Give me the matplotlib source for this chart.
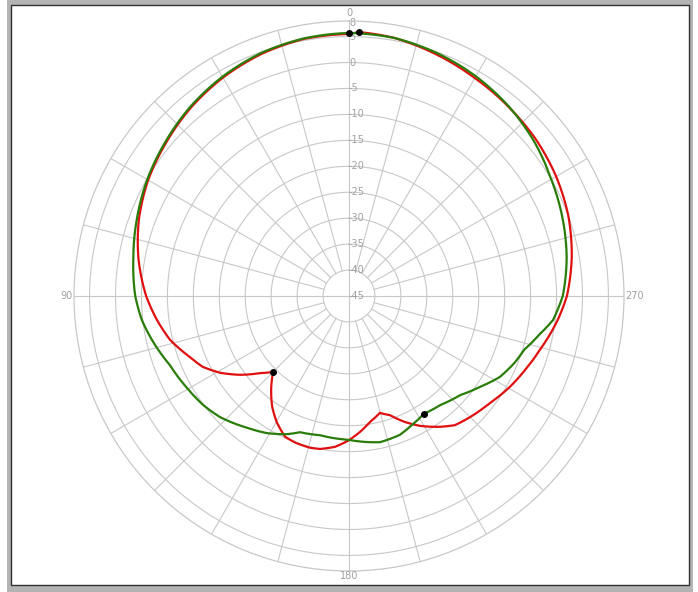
import numpy as np
import matplotlib
matplotlib.use("Agg")
import matplotlib.pyplot as plt
from matplotlib.patches import Rectangle
from matplotlib.transforms import offset_copy

# ---- data (dB vs angle in degrees) ----
green_theta = [0, 10, 20, 30, 40, 50, 60, 70, 80, 90, 96.6, 102.6, 111.1, 119.6, 126.7,
               133.2, 142.3, 149.1, 155.8, 160.2, 168.2, 179.6, 192.0, 200.1, 205.0,
               212.4, 219.9, 228.3, 235.2, 241.8, 248.0, 252.9, 258.5, 263.3, 270, 280,
               290, 300, 310, 320, 330, 340, 350, 360]
green_db = [5.7, 5.4, 4.8, 3.8, 2.6, 1.2, -0.1, -1.5, -2.8, -3.8, -4.8, -6.1, -8.0, -9.1,
            -9.9, -10.9, -12.9, -14.2, -15.8, -17.1, -17.6, -17.3, -16.2, -16.5, -17.2,
            -18.1, -17.6, -16.3, -14.3, -12.0, -10.6, -9.7, -7.6, -5.4, -3.8, -2.4,
            -1.2, 0.0, 1.5, 2.8, 3.9, 4.8, 5.5, 5.7]

red_theta = [0, 10, 20, 30, 40, 50, 60, 70, 80, 90, 97.1, 103.8, 110, 115.9, 120.8, 125.9,
             130.9, 135, 140.3, 145.3, 150.4, 155.6, 160, 165.6, 169.3, 174.7, 179.6,
             184.6, 189.5, 194.8, 199, 204, 208.6, 214.8, 219.4, 225, 232.8, 240.5,
             247.2, 254.2, 263.5, 270, 280, 290, 300, 310, 320, 330, 340, 350, 357.8, 360]
red_db = [5.5, 5.3, 4.6, 3.6, 2.4, 1.0, -0.3, -1.9, -3.8, -5.9, -7.7, -9.5, -11.8, -13.7,
          -16.1, -19.1, -22.3, -24.3, -21.5, -19.0, -16.9, -15.2, -14.9, -14.8, -15.0,
          -15.8, -17.1, -18.7, -20.4, -21.7, -20.7, -18.4, -16.5, -14.3, -12.8, -12.0,
          -10.9, -9.4, -8.2, -6.8, -4.5, -3.0, -1.4, 0.0, 1.1, 2.0, 2.7, 3.5, 4.5, 5.5,
          5.9, 5.5]

ring_values = [-45, -40, -35, -30, -25, -20, -15, -10, -5, 0, 5]
ring_labels = ["-45", "-40", "-35", "-30", "-25", "-20", "-15", "-10", "-5", "0", "5"]
r_min, r_max = -45, 8
r_max_label = "8"
angle_ticks = [0, 90, 180, 270]
angle_labels = ["0", "90", "180", "270"]

grid_c = "#c8c8c8"
text_c = "#a0a0a0"

W, H = 698, 592
fig = plt.figure(figsize=(W / 100, H / 100), dpi=100)
fig.patch.set_facecolor("white")

# window frame
fig.patches.append(Rectangle((7 / W, 0), 686 / W, 592 / H, transform=fig.transFigure,
                             facecolor="#b4b4b4", edgecolor="none", zorder=-10))
fig.patches.append(Rectangle((10.5 / W, 7 / H), 678 / W, 580 / H, transform=fig.transFigure,
                             facecolor="white", edgecolor="#303030", lw=1.0, zorder=-9))

cx, cy, R = 349, 296, 275
ax = fig.add_axes([(cx - R) / W, (H - cy - R) / H, 2 * R / W, 2 * R / H], projection="polar")
ax.set_theta_zero_location("N")
ax.set_theta_direction(1)
ax.grid(False)
ax.set_xticks([])
ax.set_yticks([])
ax.patch.set_alpha(0)
ax.spines["polar"].set_color(grid_c)
ax.spines["polar"].set_linewidth(0.9)

tt = np.linspace(0, 2 * np.pi, 361)
for v in ring_values[1:]:
    ax.plot(tt, np.full_like(tt, v), color=grid_c, lw=0.8, zorder=1)
for a in range(0, 360, 15):
    r0 = r_min if a % 90 == 0 else ring_values[1]
    ax.plot([np.deg2rad(a)] * 2, [r0, r_max], color=grid_c, lw=0.8, zorder=1)

# curves (drawn as smooth arcs in polar space between readings)
lines = []
lines += ax.plot(np.deg2rad(red_theta), red_db, color="#e01010", lw=1.6, zorder=3)
lines += ax.plot(np.deg2rad(green_theta), green_db, color="#2a7d0a", lw=1.6, zorder=4)
for ln in lines:
    ln.recache()
    ln.get_path()._interpolation_steps = 40

# max / min markers
for th, db in ((green_theta, green_db), (red_theta, red_db)):
    i_max, i_min = int(np.argmax(db)), int(np.argmin(db))
    ax.plot(np.deg2rad([th[i_max], th[i_min]]), [db[i_max], db[i_min]], "o",
            color="black", ms=4, zorder=5)

ax.set_ylim(r_min, r_max)

# radial labels
for v, lab in zip(ring_values, ring_labels):
    ax.text(0, v, lab, ha="left", va="center", fontsize=7, color=text_c, zorder=2)
ax.text(0, r_max, r_max_label, ha="left", va="top", fontsize=7, color=text_c, zorder=2,
        transform=offset_copy(ax.transData, fig=fig, x=0, y=3, units="dots"))

# angle labels
ax.text(np.deg2rad(0), r_max, angle_labels[0], ha="center", va="bottom", fontsize=7,
        color=text_c, transform=offset_copy(ax.transData, fig=fig, x=0, y=3, units="dots"))
ax.text(np.deg2rad(90), r_max + 0.3, angle_labels[1], ha="right", va="center", fontsize=7, color=text_c)
ax.text(np.deg2rad(180), r_max, angle_labels[2], ha="center", va="top", fontsize=7, color=text_c)
ax.text(np.deg2rad(270), r_max + 0.3, angle_labels[3], ha="left", va="center", fontsize=7, color=text_c)

fig.savefig("out.png", dpi=100)
